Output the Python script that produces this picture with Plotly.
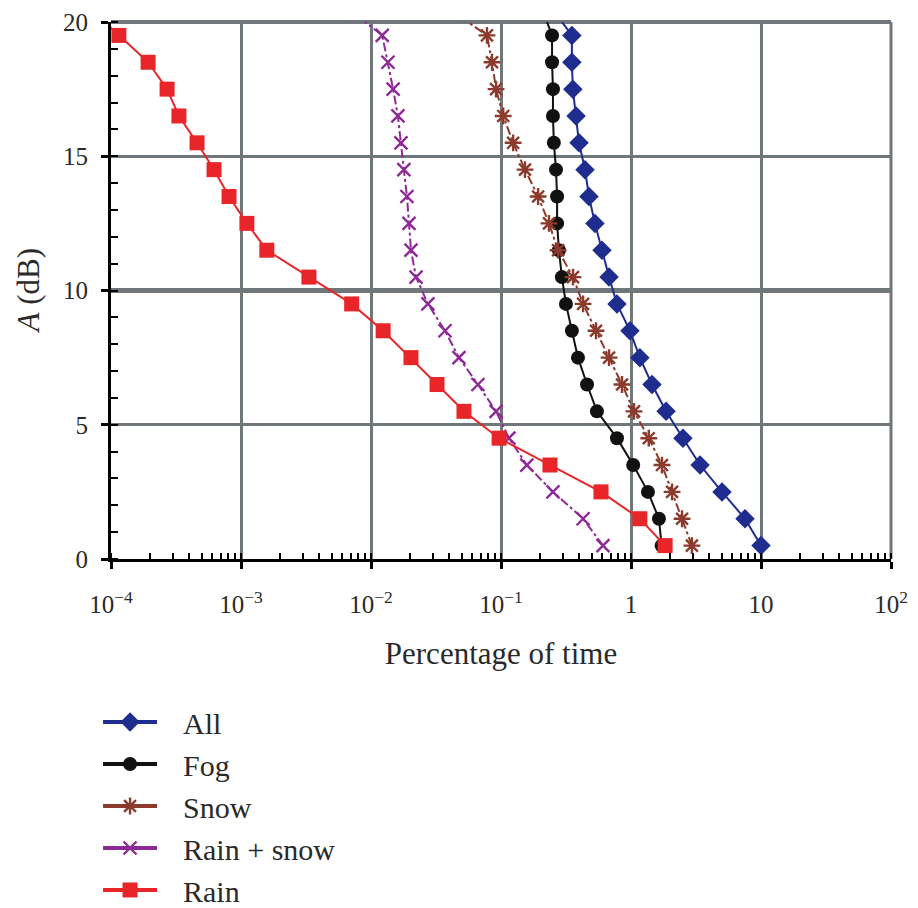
import plotly.graph_objects as go

# Attenuation levels (dB); the last level lies just above the plotted range
A_dB = [0.5, 1.5, 2.5, 3.5, 4.5, 5.5, 6.5, 7.5, 8.5, 9.5,
        10.5, 11.5, 12.5, 13.5, 14.5, 15.5, 16.5, 17.5, 18.5, 19.5, 20.5]

# Percentage of time each attenuation is exceeded
pct_all = [10.0, 7.53, 5.01, 3.40, 2.51, 1.86, 1.45, 1.17, 0.982, 0.78,
           0.678, 0.598, 0.528, 0.475, 0.443, 0.398, 0.378, 0.357, 0.351, 0.351, 0.247]
pct_fog = [1.72, 1.64, 1.35, 1.04, 0.78, 0.547, 0.459, 0.391, 0.351, 0.316,
           0.294, 0.279, 0.270, 0.270, 0.265, 0.255, 0.251, 0.251, 0.247, 0.247, 0.207]
pct_snow = [2.94, 2.47, 2.07, 1.73, 1.37, 1.055, 0.853, 0.678, 0.538, 0.428,
            0.358, 0.275, 0.234, 0.193, 0.153, 0.124, 0.104, 0.0916, 0.0853, 0.078, 0.0398]
pct_rain_snow = [0.609, 0.428, 0.251, 0.158, 0.115, 0.0916, 0.0665, 0.0475, 0.0371, 0.0274,
                 0.0222, 0.0203, 0.0196, 0.0189, 0.0179, 0.0170, 0.0161, 0.0148, 0.0135, 0.0122, 0.00665]
pct_rain = [1.83, 1.17, 0.588, 0.238, 0.0967, 0.0519, 0.0322, 0.0203, 0.0124, 0.0071,
            0.00333, 0.00158, 0.00111, 0.000809, 0.00062, 0.000459, 0.000333, 0.00027, 0.000193, 0.000115, 0.000069]

x_tickvals = [1e-4, 1e-3, 1e-2, 1e-1, 1, 10, 100]
x_ticktext = ["10<sup>\u22124</sup>", "10<sup>\u22123</sup>", "10<sup>\u22122</sup>",
              "10<sup>\u22121</sup>", "1", "10", "10<sup>2</sup>"]
y_tickvals = [0, 5, 10, 15, 20]

series = [
    ("All", pct_all, "#1f2d8f", "diamond", 15, "solid"),
    ("Fog", pct_fog, "#111111", "circle", 14, "solid"),
    ("Snow", pct_snow, "#8c3a2c", "asterisk-open", 14, "dashdot"),
    ("Rain + snow", pct_rain_snow, "#8e2a98", "x-thin-open", 13, "dashdot"),
    ("Rain", pct_rain, "#e8262a", "square", 15, "solid"),
]

FONT = "Liberation Serif, Times New Roman, serif"
GRID = "#6f777b"
TXT = "#2a2a2a"
TICK_FS = 25
LABEL_FS = 31
LEGEND_FS = 30
PAD = "\u00a0\u00a0\u2009"  # gap between legend symbol and label

fig = go.Figure()
for name, xs, color, symbol, size, dash in series:
    open_sym = symbol.endswith("open")
    marker = dict(symbol=symbol, size=size, color=color,
                  line=dict(color=color, width=2.4 if open_sym else 0))
    fig.add_trace(go.Scatter(
        x=xs, y=A_dB, mode="lines+markers", name=name, showlegend=False,
        line=dict(color=color, width=2, dash=dash), marker=marker,
    ))
    # legend entry drawn with a solid line
    fig.add_trace(go.Scatter(
        x=[None], y=[None], mode="lines+markers", name=PAD + name,
        line=dict(color=color, width=4), marker=marker,
    ))

fig.update_xaxes(
    type="log", range=[-4, 2],
    tickvals=x_tickvals, ticktext=x_ticktext,
    showgrid=True, gridcolor=GRID, gridwidth=3,
    showline=True, linecolor="#000", linewidth=3,
    ticks="outside", ticklen=7, tickwidth=3, tickcolor="#000",
    minor=dict(ticks="inside", ticklen=6, tickwidth=2, tickcolor="#000",
               dtick="D1", showgrid=False),
    ticklabelstandoff=14,
    tickfont=dict(family=FONT, size=TICK_FS, color=TXT),
    title=dict(text="Percentage of time", font=dict(family=FONT, size=LABEL_FS, color=TXT),
               standoff=26),
    zeroline=False,
)
fig.update_yaxes(
    range=[0, 20], tickvals=y_tickvals,
    showgrid=True, gridcolor=GRID, gridwidth=3,
    showline=True, linecolor="#000", linewidth=3,
    ticks="outside", ticklen=7, tickwidth=3, tickcolor="#000",
    minor=dict(ticks="inside", ticklen=7, tickwidth=2, tickcolor="#000",
               dtick=1, showgrid=False),
    ticklabelstandoff=8,
    tickfont=dict(family=FONT, size=TICK_FS, color=TXT),
    zeroline=False,
)

# y-axis label
fig.add_annotation(
    text="<i>A</i> (dB)", textangle=-90, showarrow=False,
    xref="paper", yref="paper", x=-0.1064, y=0.5, xanchor="center", yanchor="middle",
    font=dict(family=FONT, size=LABEL_FS, color=TXT),
)

# heavier 10 dB grid line, plus grey top and right frame edges
fig.add_shape(type="line", xref="paper", yref="y", x0=0, x1=1, y0=10, y1=10,
              line=dict(color=GRID, width=5), layer="below")
fig.add_shape(type="line", xref="paper", yref="paper", x0=0, x1=1, y0=1, y1=1,
              line=dict(color=GRID, width=4), layer="below")
fig.add_shape(type="line", xref="paper", yref="paper", x0=1, x1=1, y0=0, y1=1,
              line=dict(color=GRID, width=3), layer="below")

fig.update_layout(
    width=918, height=908,
    margin=dict(l=111, r=27, t=22, b=349, autoexpand=False),
    paper_bgcolor="white", plot_bgcolor="white",
    font=dict(family=FONT, size=TICK_FS, color=TXT),
    legend=dict(
        xref="container", yref="container",
        x=0.1068, xanchor="left", y=0.2335, yanchor="top",
        orientation="v", tracegroupgap=0,
        itemwidth=54, font=dict(family=FONT, size=LEGEND_FS, color=TXT),
        bgcolor="rgba(0,0,0,0)",
    ),
)

fig.write_html("out.html")
